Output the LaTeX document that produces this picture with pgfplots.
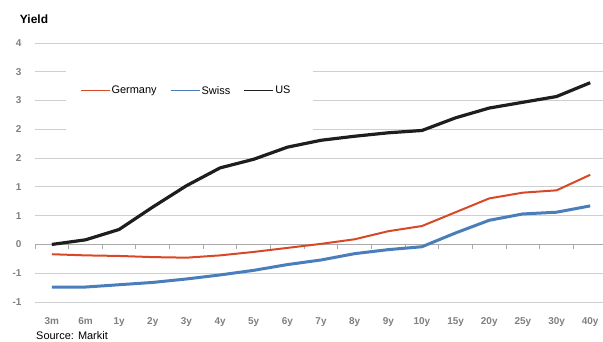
\documentclass[border=0pt]{standalone}
\usepackage{pgfplots}
\pgfplotsset{compat=1.18}
\usepackage{fontspec}
\setmainfont{Liberation Sans}
\definecolor{cGer}{RGB}{217,72,38}
\definecolor{cSwi}{RGB}{74,126,187}
\definecolor{cUS}{RGB}{30,30,30}
\definecolor{tickgray}{RGB}{128,128,128}
\definecolor{gridgray}{RGB}{205,208,208}
\definecolor{axisgray}{RGB}{170,170,170}
\begin{document}
\begin{tikzpicture}
\useasboundingbox (0,0) rectangle (603bp,342bp);
\begin{axis}[
  at={(35bp,40bp)}, anchor=south west,
  scale only axis, width=568bp, height=259bp,
  xmin=-0.5, xmax=16.38, ymin=-1, ymax=3.5,
  axis line style={draw=none},
  xtick={0,...,16},
  xticklabels={3m,6m,1y,2y,3y,4y,5y,6y,7y,8y,9y,10y,15y,20y,25y,30y,40y},
  ytick={-1,-0.5,0,0.5,1,1.5,2,2.5,3,3.5},
  yticklabels={-1,-1,0,1,1,2,2,3,3,4},
  major tick length=0,
  ymajorgrids,
  grid style={gridgray, line width=0.9bp},
  tick label style={font=\fontsize{10}{12}\selectfont\bfseries, text=tickgray},
  xticklabel style={yshift=-12bp},
  yticklabel style={xshift=-10bp},
  legend style={at={(0.079,0.815)}, anchor=west, draw=none, fill=none,
    font=\fontsize{11}{13}\selectfont, inner sep=0pt,
    nodes={inner sep=1.5bp}},
  legend columns=3,
  /tikz/every even column/.append style={column sep=12bp},
  legend image code/.code={\draw[#1, line width=1bp] (0bp,0bp) -- (29bp,0bp);},
]
\fill[white] (axis cs:0.42,1.86) rectangle (axis cs:7.75,3.2);
\draw[axisgray, line width=0.9bp] (axis cs:-0.5,0) -- (axis cs:16.38,0);
\pgfplotsinvokeforeach{-0.5,0.5,...,16.5}{\draw[axisgray, line width=0.9bp] (axis cs:#1,0) -- ([yshift=-4.5bp]axis cs:#1,0);}
\addplot[cGer, line width=2bp] coordinates {(0,-0.17) (1,-0.19) (2,-0.20) (3,-0.22) (4,-0.23) (5,-0.19) (6,-0.13) (7,-0.06) (8,0.01) (9,0.09) (10,0.23) (11,0.32) (12,0.56) (13,0.80) (14,0.90) (15,0.94) (16,1.21)};
\addlegendentry{Germany}
\addplot[cSwi, line width=3bp] coordinates {(0,-0.74) (1,-0.74) (2,-0.70) (3,-0.66) (4,-0.60) (5,-0.53) (6,-0.45) (7,-0.35) (8,-0.27) (9,-0.16) (10,-0.09) (11,-0.04) (12,0.20) (13,0.42) (14,0.53) (15,0.56) (16,0.67)};
\addlegendentry{Swiss}
\addplot[cUS, line width=3.2bp] coordinates {(0,0) (1,0.08) (2,0.26) (3,0.65) (4,1.02) (5,1.33) (6,1.48) (7,1.69) (8,1.81) (9,1.88) (10,1.94) (11,1.98) (12,2.20) (13,2.37) (14,2.47) (15,2.57) (16,2.81)};
\addlegendentry{US}
\end{axis}
\node[anchor=center, font=\fontsize{12}{14}\selectfont\bfseries] at (34bp,323bp) {Yield};
\node[anchor=base west, inner sep=0pt, font=\fontsize{11}{13}\selectfont] at (36bp,3bp) {Source: Markit};
\end{tikzpicture}
\end{document}
